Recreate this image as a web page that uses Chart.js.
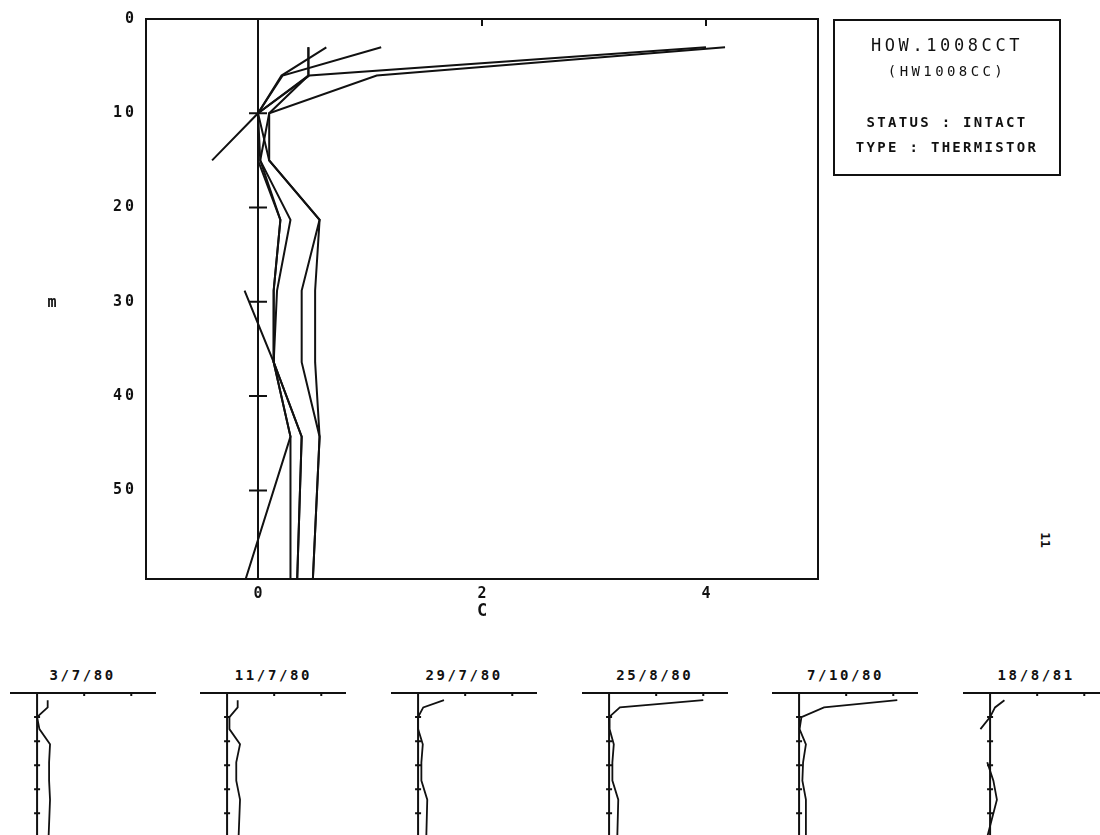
<!DOCTYPE html>
<html>
<head>
<meta charset="utf-8">
<title>HOW.1008CCT</title>
<script src="https://cdn.jsdelivr.net/npm/chart.js@4/dist/chart.umd.min.js"></script>
<style>
  html, body { margin: 0; padding: 0; background: #fff; }
  body { width: 1100px; height: 835px; position: relative; overflow: hidden; color: #111;
         font-family: "DejaVu Sans Mono", monospace; }
  canvas { position: absolute; }
  .lbl { position: absolute; white-space: nowrap; transform: translate(-50%, -50%); }
  .info { position: absolute; left: 833px; top: 19px; width: 224px; height: 153px; border: 2px solid #111; }
  .panel-title { position: absolute; top: 675px; font-weight: bold; font-size: 14px; letter-spacing: 2.6px;
                 transform: translate(-50%, -50%); white-space: nowrap; }
</style>
</head>
<body>

<canvas id="mainChart" width="840" height="640" style="left:0;top:0"></canvas>

<div class="lbl" style="left:52px;top:302px;font-weight:bold;font-size:15px">m</div>

<div class="info"></div>
<div class="lbl" style="left:947px;top:45px;font-size:17px;letter-spacing:3.6px">HOW.1008CCT</div>
<div class="lbl" style="left:947px;top:71px;font-size:14px;letter-spacing:3.4px">(HW1008CC)</div>
<div class="lbl" style="left:947px;top:122px;font-size:14px;font-weight:bold;letter-spacing:2.3px">STATUS : INTACT</div>
<div class="lbl" style="left:947px;top:147px;font-size:14px;font-weight:bold;letter-spacing:2.3px">TYPE : THERMISTOR</div>

<div class="lbl" style="left:1045px;top:540px;font-size:13px;font-weight:bold;transform:translate(-50%,-50%) rotate(90deg)">11</div>

<div id="panels"></div>

<script>
// depths of the thermistor readings (m)
const depths = [3, 6, 10, 15, 21.3, 28.8, 36.4, 44.3, 59.4];

// temperatures (C) for each reading date
const dates = ['3/7/80', '11/7/80', '29/7/80', '25/8/80', '7/10/80', '18/8/81'];
const temp030780 = [0.45, 0.45, 0.0, 0.1, 0.55, 0.51, 0.51, 0.55, 0.49];
const temp110780 = [0.45, 0.45, 0.1, 0.1, 0.55, 0.39, 0.39, 0.55, 0.49];
const temp290780 = [1.1, 0.22, 0.0, 0.0, 0.2, 0.14, 0.14, 0.39, 0.35];
const temp250880 = [4.0, 0.46, 0.0, 0.02, 0.2, 0.14, 0.14, 0.39, 0.35];
const temp071080 = [4.17, 1.06, 0.1, 0.02, 0.29, 0.17, 0.14, 0.29, 0.29];
const temp180881 = [0.61, 0.21, 0.0, -0.41, null, -0.12, 0.14, 0.29, -0.11];
const profiles = [temp030780, temp110780, temp290780, temp250880, temp071080, temp180881];

// axis ticks
const xTickValues = [0, 2, 4];
const yTickValues = [0, 10, 20, 30, 40, 50];

const INK = '#111';

const toPoints = temps => temps.map((t, i) => ({ x: t, y: depths[i] }));

document.addEventListener('DOMContentLoaded', () => {

    // --- 1. Main profile chart ---
    const mainFrame = {
        id: 'mainFrame',
        beforeDraw(chart) {
            // wider plotter-style spacing for the depth labels
            chart.ctx.letterSpacing = '3px';
        },
        afterDatasetsDraw(chart) {
            const { ctx, chartArea: a, scales: { x, y } } = chart;
            ctx.letterSpacing = '0px'; // x labels (drawn later) stay normal
            const x0 = x.getPixelForValue(0);
            ctx.save();
            ctx.strokeStyle = INK;
            ctx.lineWidth = 2;
            ctx.strokeRect(a.left, a.top, a.right - a.left, a.bottom - a.top);
            ctx.beginPath();
            ctx.moveTo(x0, a.top);
            ctx.lineTo(x0, a.bottom);
            // depth ticks sit on the zero line
            yTickValues.filter(v => v > 0).forEach(v => {
                const py = y.getPixelForValue(v);
                ctx.moveTo(x0 - 9, py);
                ctx.lineTo(x0 + 9, py);
            });
            // small ticks on the top border
            xTickValues.filter(v => v > 0).forEach(v => {
                const px = x.getPixelForValue(v);
                ctx.moveTo(px, a.top);
                ctx.lineTo(px, a.top + 7);
            });
            ctx.stroke();
            ctx.restore();
        }
    };

    const tickFont = { family: 'DejaVu Sans Mono', weight: 'bold', size: 15 };

    new Chart(document.getElementById('mainChart'), {
        type: 'line',
        data: {
            datasets: profiles.map((temps, i) => ({
                label: dates[i],
                data: toPoints(temps),
                borderColor: INK,
                borderWidth: 2,
                pointRadius: 0,
                tension: 0,
                spanGaps: false
            }))
        },
        options: {
            indexAxis: 'y',
            responsive: false,
            animation: false,
            layout: { padding: { top: 19, right: 22, left: 0, bottom: 14 } },
            plugins: { legend: { display: false }, tooltip: { enabled: false } },
            scales: {
                x: {
                    type: 'linear',
                    min: -1,
                    max: 5,
                    grid: { display: false, drawTicks: false, z: 1 },
                    border: { display: false },
                    afterBuildTicks: s => { s.ticks = xTickValues.map(v => ({ value: v })); },
                    afterFit: s => { s.height = 47; },
                    ticks: { color: INK, font: tickFont, padding: 6, maxRotation: 0, z: 1 },
                    title: {
                        display: true, text: 'C', color: INK,
                        font: { family: 'DejaVu Sans Mono', weight: 'bold', size: 17 },
                        padding: { top: 0, bottom: 4 }
                    }
                },
                y: {
                    type: 'linear',
                    reverse: true,
                    min: 0,
                    max: 59.4,
                    grid: { display: false, drawTicks: false },
                    border: { display: false },
                    afterBuildTicks: s => { s.ticks = yTickValues.map(v => ({ value: v })); },
                    afterFit: s => { s.width = 146; },
                    ticks: { color: INK, font: tickFont, padding: 9 }
                }
            }
        },
        plugins: [mainFrame]
    });

    // --- 2. Small panels, one per reading date ---
    const panelFrame = {
        id: 'panelFrame',
        afterDatasetsDraw(chart) {
            const { ctx, chartArea: a, scales: { x, y } } = chart;
            const x0 = x.getPixelForValue(0);
            ctx.save();
            ctx.strokeStyle = INK;
            ctx.lineWidth = 2;
            ctx.beginPath();
            ctx.moveTo(a.left, a.top);
            ctx.lineTo(a.right, a.top);
            ctx.moveTo(x0, a.top);
            ctx.lineTo(x0, a.bottom);
            yTickValues.filter(v => v > 0).forEach(v => {
                const py = y.getPixelForValue(v);
                ctx.moveTo(x0 - 3, py);
                ctx.lineTo(x0 + 3, py);
            });
            xTickValues.filter(v => v > 0).forEach(v => {
                const px = x.getPixelForValue(v);
                ctx.moveTo(px, a.top);
                ctx.lineTo(px, a.top + 3);
            });
            ctx.stroke();
            ctx.restore();
        }
    };

    const holder = document.getElementById('panels');
    dates.forEach((date, i) => {
        const zero = 36.7 + i * 190.7;       // page x of 0 C in this panel
        const canvas = document.createElement('canvas');
        canvas.width = 154;
        canvas.height = 151;
        canvas.style.left = (zero - 1.15 * 23.5 - 4) + 'px';
        canvas.style.top = '689px';
        holder.appendChild(canvas);

        const title = document.createElement('div');
        title.className = 'panel-title';
        title.style.left = (zero + 46) + 'px';
        title.textContent = date;
        holder.appendChild(title);

        new Chart(canvas, {
            type: 'line',
            data: {
                datasets: [{
                    label: date,
                    data: toPoints(profiles[i]),
                    borderColor: INK,
                    borderWidth: 1.8,
                    pointRadius: 0,
                    tension: 0,
                    spanGaps: false
                }]
            },
            options: {
                indexAxis: 'y',
                responsive: false,
                animation: false,
                layout: { padding: 4 },
                plugins: { legend: { display: false }, tooltip: { enabled: false } },
                scales: {
                    x: { type: 'linear', min: -1.15, max: 5.05, display: false },
                    y: { type: 'linear', reverse: true, min: 0, max: 59.4, display: false }
                }
            },
            plugins: [panelFrame]
        });
    });
});
</script>
</body>
</html>
